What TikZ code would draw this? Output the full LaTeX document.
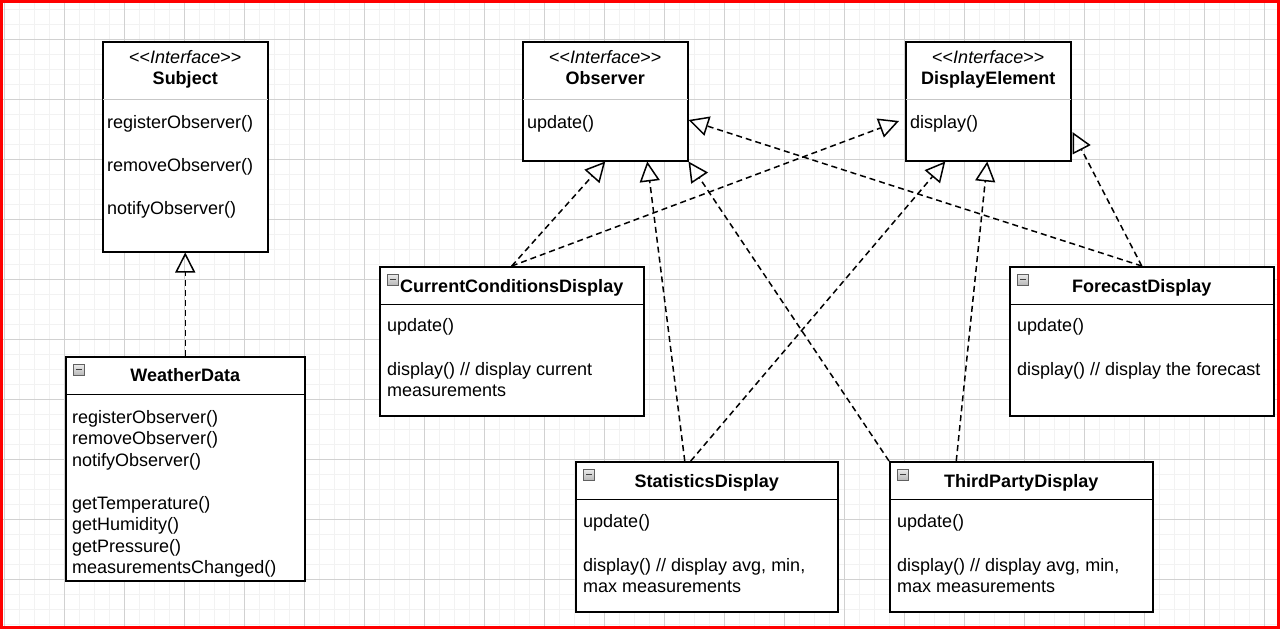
\documentclass[tikz,border=0pt]{standalone}
\usepackage{fontspec}
\setmainfont{Liberation Sans}
\usetikzlibrary{calc,arrows.meta}

% <<Interface>> without the guillemet ligature
\newcommand{\ifacetag}{<\kern0pt<\textit{Interface}>\kern0pt>}

\tikzset{
  umlbox/.style={draw, line width=1.5pt, fill=white, anchor=north west, inner sep=0pt},
  member/.style={anchor=west, inner sep=0pt, text height=17pt, text depth=4pt,
    font=\fontsize{18}{21.5}\selectfont},
  classname/.style={inner sep=0pt, text height=17pt, text depth=4pt,
    font=\fontsize{18}{21.5}\selectfont\bfseries},
  stereo/.style={inner sep=0pt, text height=17pt, text depth=4pt,
    font=\fontsize{18}{21.5}\selectfont},
  minusicon/.style={draw=gray!75!black, line width=0.6pt, top color=gray!15,
    bottom color=gray!55, minimum size=11pt, inner sep=0pt,
    path picture={\draw[line width=1.5pt, black!75]
      ([xshift=2.5pt]path picture bounding box.west) --
      ([xshift=-2.5pt]path picture bounding box.east);}},
  realize/.style={line width=1.5pt, dash pattern=on 6pt off 4pt,
    -{Triangle[open, length=20pt, width=20pt]}},
  minorgrid/.style={black!5, line width=1pt},
  majorgrid/.style={black!18, line width=1pt}
}

\begin{document}
\begin{tikzpicture}[x=1pt, y=-1pt]
  \useasboundingbox (0,0) rectangle (1280,629);
  \fill[white] (0,0) rectangle (1280,629);
  % canvas grid
  \foreach \x in {4,19,...,1279} \draw[minorgrid] (\x,0) -- (\x,629);
  \foreach \y in {9,24,...,624} \draw[minorgrid] (0,\y) -- (1280,\y);
  \foreach \x in {4,64,...,1264} \draw[majorgrid] (\x,0) -- (\x,629);
  \foreach \y in {39,99,...,579} \draw[majorgrid] (0,\y) -- (1280,\y);

  % interfaces
  \node[umlbox, minimum width=165pt, minimum height=210pt] (subject) at (102,41) {};
  \node[umlbox, minimum width=165pt, minimum height=119pt] (observer) at (522,41) {};
  \node[umlbox, minimum width=165pt, minimum height=119pt] (display) at (905,41) {};
  \foreach \b in {subject,observer,display} {
    \draw[black!22, line width=1pt] ($(\b.north west)+(0.75,58)$) -- ($(\b.north east)+(-0.75,58)$);
    \node[stereo] (\b-st) at ($(\b.north)+(0,16)$) {\ifacetag};
  }
  \node[classname] (subject-name) at ($(subject.north)+(0,37)$) {Subject};
  \node[classname] (observer-name) at ($(observer.north)+(0,37)$) {Observer};
  \node[classname] (display-name) at ($(display.north)+(0,37)$) {DisplayElement};
  \node[member] (subject-m1) at ($(subject.north west)+(5,80.7)$) {registerObserver()};
  \node[member] (subject-m2) at ($(subject.north west)+(5,124)$) {removeObserver()};
  \node[member] (subject-m3) at ($(subject.north west)+(5,167.3)$) {notifyObserver()};
  \node[member] (observer-m1) at ($(observer.north west)+(5,80.7)$) {update()};
  \node[member] (display-m1) at ($(display.north west)+(5,80.7)$) {display()};

  % classes
  \node[umlbox, minimum width=239pt, minimum height=224pt] (wd) at (65,356) {};
  \node[umlbox, minimum width=264pt, minimum height=149pt] (ccd) at (379,266) {};
  \node[umlbox, minimum width=264pt, minimum height=149pt] (forecast) at (1009,266) {};
  \node[umlbox, minimum width=262pt, minimum height=150pt] (stats) at (575,461) {};
  \node[umlbox, minimum width=263pt, minimum height=150pt] (third) at (889,461) {};
  \foreach \b in {wd,ccd,forecast,stats,third} {
    \draw[line width=1.5pt] ($(\b.north west)+(0,38.5)$) -- ($(\b.north east)+(0,38.5)$);
    \node[minusicon] (\b-icon) at ($(\b.north west)+(14,13.5)$) {};
  }
  \node[classname] (wd-name) at ($(wd.north)+(0,19)$) {WeatherData};
  \node[classname] (ccd-name) at ($(ccd.north)+(0,19.5)$) {CurrentConditionsDisplay};
  \node[classname] (forecast-name) at ($(forecast.north)+(0,19.5)$) {ForecastDisplay};
  \node[classname] (stats-name) at ($(stats.north)+(0,20)$) {StatisticsDisplay};
  \node[classname] (third-name) at ($(third.north)+(0,20)$) {ThirdPartyDisplay};

  \foreach \m [count=\i] in {registerObserver(),removeObserver(),notifyObserver()}
    \node[member] (wd-m\i) at ($(wd.north west)+(7,{60.7+21.5*(\i-1)})$) {\m};
  \foreach \m [count=\i from 4] in {getTemperature(),getHumidity(),getPressure(),measurementsChanged()}
    \node[member] (wd-m\i) at ($(wd.north west)+(7,{146.7+21.5*(\i-4)})$) {\m};

  \node[member] (ccd-m1) at ($(ccd.north west)+(8,59)$) {update()};
  \node[member] (ccd-m2) at ($(ccd.north west)+(8,102.5)$) {display() // display current};
  \node[member] (ccd-m3) at ($(ccd.north west)+(8,123.5)$) {measurements};
  \node[member] (forecast-m1) at ($(forecast.north west)+(8,59)$) {update()};
  \node[member] (forecast-m2) at ($(forecast.north west)+(8,102.5)$) {display() // display the forecast};
  \foreach \b in {stats,third} {
    \node[member] (\b-m1) at ($(\b.north west)+(8,59.5)$) {update()};
    \node[member] (\b-m2) at ($(\b.north west)+(8,104)$) {display() // display avg, min,};
    \node[member] (\b-m3) at ($(\b.north west)+(8,124.5)$) {max measurements};
  }

  % realizations
  \draw[realize] (wd.north) -- (subject.south);
  \draw[realize] (ccd.north) -- (observer.south);
  \draw[realize] (ccd.north) -- ($(display.north west)+(-6,80)$);
  \draw[realize] ($(stats.north)+(-22,0)$) -- ($(observer.south)+(42,0)$);
  \draw[realize] ($(stats.north)+(-16,0)$) -- ($(display.south)+(-43,0)$);
  \draw[realize] (third.north west) -- (observer.south east);
  \draw[realize] ($(third.north)+(-65,0)$) -- ($(display.south)+(-1,0)$);
  \draw[realize] (forecast.north) -- ($(observer.north east)+(0,79)$);
  \draw[realize] (forecast.north) -- ($(display.north east)+(1,91)$);

  % frame
  \draw[red, line width=3pt] (1.5,1.5) rectangle (1278.5,627.5);
\end{tikzpicture}
\end{document}
